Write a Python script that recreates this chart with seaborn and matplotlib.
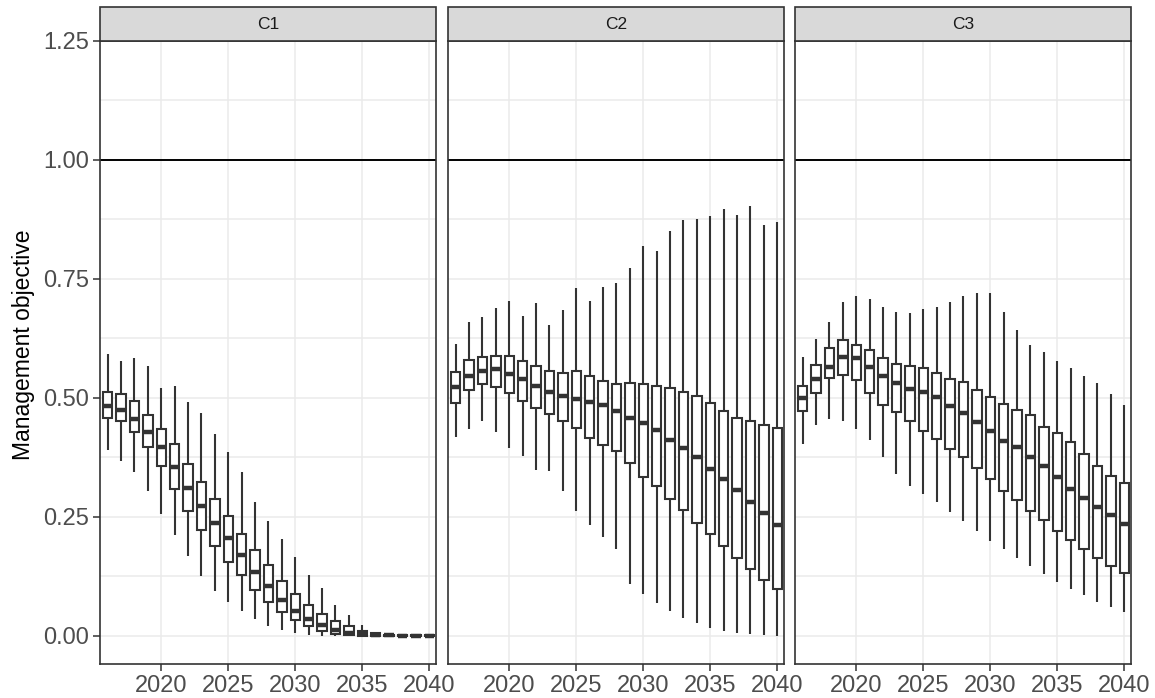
import numpy as np
import pandas as pd
import matplotlib
matplotlib.use("Agg")
import matplotlib.pyplot as plt
import seaborn as sns
from matplotlib.patches import Rectangle

# ---------------- data ----------------
years = list(range(2016, 2041))
panels = ["C1", "C2", "C3"]

c1_hi = [0.593, 0.578, 0.583, 0.568, 0.521, 0.525, 0.492, 0.468, 0.424, 0.387, 0.344, 0.281, 0.242,
         0.203, 0.166, 0.128, 0.100, 0.065, 0.044, 0.022, 0.008, 0.003, 0.002, 0.002, 0.002]
c1_q3 = [0.513, 0.509, 0.494, 0.465, 0.434, 0.403, 0.362, 0.324, 0.288, 0.251, 0.215, 0.180, 0.148,
         0.116, 0.088, 0.065, 0.047, 0.032, 0.020, 0.011, 0.006, 0.002, 0.001, 0.001, 0.001]
c1_med = [0.483, 0.475, 0.455, 0.429, 0.396, 0.354, 0.310, 0.273, 0.238, 0.206, 0.170, 0.134, 0.104,
          0.076, 0.053, 0.036, 0.022, 0.013, 0.007, 0.004, 0.002, 0.001, 0.0005, 0.0005, 0.0005]
c1_q1 = [0.458, 0.451, 0.428, 0.396, 0.356, 0.308, 0.262, 0.223, 0.189, 0.156, 0.127, 0.097, 0.072,
         0.051, 0.034, 0.021, 0.011, 0.005, 0.0015, 0.0, 0.0, 0.0, 0.0, 0.0, 0.0]
c1_lo = [0.390, 0.368, 0.344, 0.305, 0.256, 0.212, 0.167, 0.125, 0.094, 0.071, 0.053, 0.036, 0.021,
         0.013, 0.006, 0.002, 0.0, 0.0, 0.0, 0.0, 0.0, 0.0, 0.0, 0.0, 0.0]

c2_hi = [0.614, 0.659, 0.670, 0.689, 0.704, 0.673, 0.700, 0.654, 0.684, 0.732, 0.704, 0.734, 0.742,
         0.772, 0.819, 0.809, 0.850, 0.874, 0.877, 0.882, 0.898, 0.885, 0.903, 0.863, 0.869]
c2_q3 = [0.554, 0.579, 0.586, 0.589, 0.589, 0.577, 0.567, 0.556, 0.553, 0.556, 0.547, 0.535, 0.530,
         0.531, 0.530, 0.526, 0.521, 0.512, 0.504, 0.490, 0.472, 0.457, 0.451, 0.443, 0.436]
c2_med = [0.524, 0.547, 0.556, 0.561, 0.551, 0.539, 0.526, 0.513, 0.505, 0.497, 0.492, 0.485, 0.473,
          0.458, 0.448, 0.432, 0.412, 0.395, 0.375, 0.351, 0.329, 0.306, 0.282, 0.259, 0.234]
c2_q1 = [0.490, 0.516, 0.530, 0.523, 0.511, 0.494, 0.479, 0.466, 0.452, 0.437, 0.415, 0.402, 0.389,
         0.363, 0.333, 0.314, 0.288, 0.264, 0.238, 0.214, 0.189, 0.163, 0.140, 0.118, 0.098]
c2_lo = [0.418, 0.434, 0.452, 0.429, 0.394, 0.379, 0.348, 0.347, 0.304, 0.262, 0.234, 0.208, 0.182,
         0.109, 0.088, 0.069, 0.053, 0.037, 0.027, 0.017, 0.011, 0.006, 0.004, 0.001, 0.000]

c3_hi = [0.586, 0.624, 0.660, 0.701, 0.714, 0.707, 0.692, 0.681, 0.678, 0.687, 0.692, 0.701, 0.714,
         0.720, 0.720, 0.680, 0.643, 0.612, 0.596, 0.578, 0.563, 0.546, 0.532, 0.508, 0.485]
c3_q3 = [0.525, 0.570, 0.605, 0.621, 0.611, 0.601, 0.583, 0.572, 0.567, 0.563, 0.553, 0.540, 0.533,
         0.516, 0.502, 0.488, 0.474, 0.465, 0.438, 0.427, 0.408, 0.382, 0.356, 0.337, 0.321]
c3_med = [0.499, 0.539, 0.566, 0.586, 0.584, 0.566, 0.547, 0.532, 0.518, 0.512, 0.503, 0.483, 0.469,
          0.450, 0.430, 0.410, 0.396, 0.375, 0.358, 0.334, 0.309, 0.289, 0.271, 0.255, 0.236]
c3_q1 = [0.473, 0.511, 0.542, 0.549, 0.537, 0.511, 0.486, 0.470, 0.452, 0.430, 0.414, 0.393, 0.375,
         0.353, 0.330, 0.304, 0.285, 0.263, 0.244, 0.221, 0.202, 0.182, 0.163, 0.146, 0.132]
c3_lo = [0.403, 0.443, 0.455, 0.451, 0.434, 0.412, 0.376, 0.341, 0.316, 0.299, 0.281, 0.260, 0.241,
         0.220, 0.200, 0.182, 0.164, 0.146, 0.130, 0.114, 0.099, 0.086, 0.072, 0.060, 0.050]

y_ticks = [0.00, 0.25, 0.50, 0.75, 1.00, 1.25]
y_tick_labels = ["0.00", "0.25", "0.50", "0.75", "1.00", "1.25"]
x_ticks = [2020, 2025, 2030, 2035, 2040]
ref_level = 1.0
y_label = "Management objective"

summaries = {
    "C1": [c1_lo, c1_q1, c1_med, c1_q3, c1_hi],
    "C2": [c2_lo, c2_q1, c2_med, c2_q3, c2_hi],
    "C3": [c3_lo, c3_q1, c3_med, c3_q3, c3_hi],
}

# five summary values per box -> quantiles reproduce them exactly
rows = []
for p in panels:
    stats = summaries[p]
    for i, yr in enumerate(years):
        for s in stats:
            rows.append({"panel": p, "year": yr, "value": s[i]})
df = pd.DataFrame(rows)

# ---------------- plot ----------------
sns.set_theme(style="white")
plt.rcParams["font.family"] = ["Liberation Sans", "DejaVu Sans"]

W, H = 1155, 698
fig = plt.figure(figsize=(W / 100, H / 100), dpi=100)

panel_lefts = [100, 448, 795]
panel_w = 336
top_px, bot_px = 41, 664
strip_top = 7

dark = "#333333"
grid_c = "#EBEBEB"

for k, p in enumerate(panels):
    ax = fig.add_axes([panel_lefts[k] / W, 1 - bot_px / H, panel_w / W, (bot_px - top_px) / H])
    sub = df[df["panel"] == p]
    # grid
    for gy in np.arange(0, 1.26, 0.125):
        ax.axhline(gy, color=grid_c, lw=1.1, zorder=0)
    for gx in x_ticks:
        ax.axvline(gx, color=grid_c, lw=1.1, zorder=0)
    ax.axhline(ref_level, color="black", lw=1.4, zorder=1)
    sns.boxplot(data=sub, x="year", y="value", native_scale=True, ax=ax,
                whis=(0, 100), width=0.7, showcaps=False, fliersize=0,
                color="white", linecolor=dark, linewidth=1.5,
                medianprops={"linewidth": 3.2, "color": dark, "solid_capstyle": "butt"},
                zorder=2)
    ax.set_xlim(2015.43, 2040.5)
    ax.set_ylim(-0.059, 1.25)
    ax.set_xticks(x_ticks)
    ax.set_xticklabels([str(t) for t in x_ticks])
    ax.set_yticks(y_ticks)
    ax.set_xlabel("")
    ax.grid(False)
    ax.tick_params(axis="both", which="major", length=5, width=1.1, color=dark,
                   labelsize=17, labelcolor="#4D4D4D", pad=3, direction="out")
    if k == 0:
        ax.set_yticklabels(y_tick_labels)
        ax.set_ylabel(y_label, fontsize=16.5, color="black", labelpad=4)
        ax.yaxis.set_label_coords(-0.192, 0.512)
        ax.tick_params(axis="y", left=True)
    else:
        ax.set_ylabel("")
        ax.tick_params(axis="y", left=False, labelleft=False)
    ax.tick_params(axis="x", bottom=True)
    for sp in ax.spines.values():
        sp.set_color(dark)
        sp.set_linewidth(1.2)
        sp.set_visible(True)
    # strip
    h_frac = (top_px - strip_top) / (bot_px - top_px)
    rect = Rectangle((0, 1.0), 1, h_frac, transform=ax.transAxes, facecolor="#D9D9D9",
                     edgecolor=dark, lw=1.2, clip_on=False, zorder=5)
    ax.add_patch(rect)
    ax.text(0.5, 1.0 + h_frac / 2, p, transform=ax.transAxes, ha="center", va="center",
            fontsize=12.5, color="#1A1A1A", zorder=6)

fig.savefig("out.png", dpi=100, facecolor="white")
